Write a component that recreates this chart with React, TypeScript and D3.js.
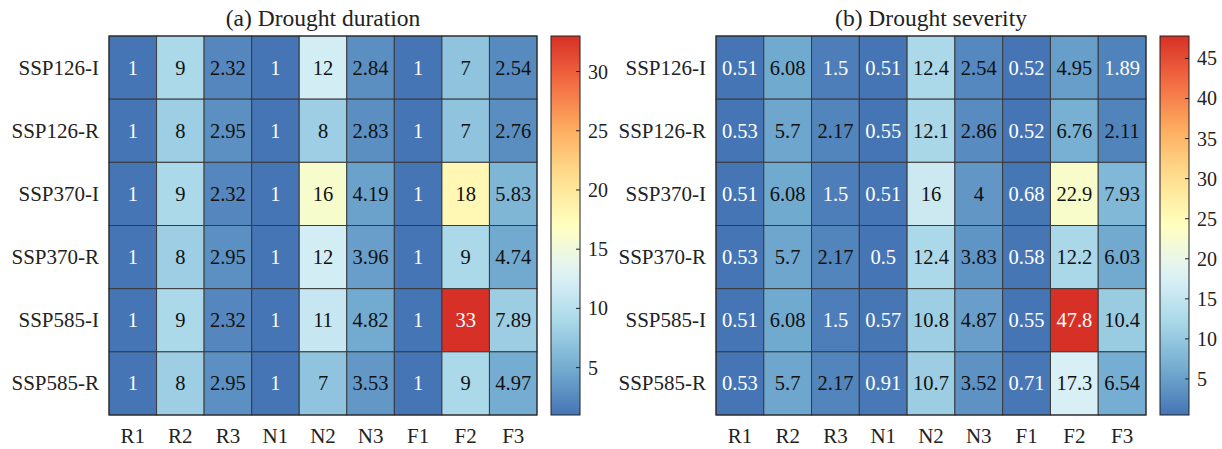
import React from 'react';
import * as d3 from 'd3';

const rows = ['SSP126-I', 'SSP126-R', 'SSP370-I', 'SSP370-R', 'SSP585-I', 'SSP585-R'];
const cols = ['R1', 'R2', 'R3', 'N1', 'N2', 'N3', 'F1', 'F2', 'F3'];

// drought duration, one array per row
const durSSP126I = [1, 9, 2.32, 1, 12, 2.84, 1, 7, 2.54];
const durSSP126R = [1, 8, 2.95, 1, 8, 2.83, 1, 7, 2.76];
const durSSP370I = [1, 9, 2.32, 1, 16, 4.19, 1, 18, 5.83];
const durSSP370R = [1, 8, 2.95, 1, 12, 3.96, 1, 9, 4.74];
const durSSP585I = [1, 9, 2.32, 1, 11, 4.82, 1, 33, 7.89];
const durSSP585R = [1, 8, 2.95, 1, 7, 3.53, 1, 9, 4.97];

// drought severity
const sevSSP126I = [0.51, 6.08, 1.5, 0.51, 12.4, 2.54, 0.52, 4.95, 1.89];
const sevSSP126R = [0.53, 5.7, 2.17, 0.55, 12.1, 2.86, 0.52, 6.76, 2.11];
const sevSSP370I = [0.51, 6.08, 1.5, 0.51, 16, 4, 0.68, 22.9, 7.93];
const sevSSP370R = [0.53, 5.7, 2.17, 0.5, 12.4, 3.83, 0.58, 12.2, 6.03];
const sevSSP585I = [0.51, 6.08, 1.5, 0.57, 10.8, 4.87, 0.55, 47.8, 10.4];
const sevSSP585R = [0.53, 5.7, 2.17, 0.91, 10.7, 3.52, 0.71, 17.3, 6.54];

const durTicks = [5, 10, 15, 20, 25, 30];
const sevTicks = [5, 10, 15, 20, 25, 30, 35, 40, 45];

const font = '"Liberation Serif", "Times New Roman", serif';
const palette = d3.schemeRdYlBu[9].slice().reverse();

type PanelProps = {
  id: string;
  title: string;
  data: number[][];
  ticks: number[];
  left: number;
  width: number;
};

const top = 36;
const bottom = 415;

const Panel = ({ id, title, data, ticks, left, width }: PanelProps) => {
  const flat = data.flat();
  const lo = d3.min(flat) as number;
  const hi = d3.max(flat) as number;

  const x = d3.scaleBand().domain(cols).range([left, left + width]);
  const y = d3.scaleBand().domain(rows).range([top, bottom]);

  // colour scale: 9-class RdYlBu reversed, stretched over the data range
  const color = d3
    .scaleLinear<string>()
    .domain(palette.map((_, i) => lo + (i / (palette.length - 1)) * (hi - lo)))
    .range(palette)
    .interpolate(d3.interpolateRgb);

  const cbLeft = left + width + 14;
  const cbWidth = 29;
  const cy = d3.scaleLinear().domain([lo, hi]).range([bottom, top]);

  const textColor = (v: number) => {
    const t = (v - lo) / (hi - lo);
    return t < 0.032 || t > 0.85 ? '#fff' : '#111';
  };

  const stops = d3.range(0, 1.0001, 0.05);

  return (
    <g>
      <defs>
        <linearGradient id={id} x1="0" y1="1" x2="0" y2="0">
          {stops.map((s) => (
            <stop key={s} offset={s} stopColor={color(lo + s * (hi - lo))} />
          ))}
        </linearGradient>
      </defs>
      <text x={left + width / 2} y={26} textAnchor="middle" fontSize={23.5} fill="#222">
        {title}
      </text>
      {data.map((row, i) =>
        row.map((v, j) => (
          <g key={`${i}-${j}`}>
            <rect
              x={x(cols[j])}
              y={y(rows[i])}
              width={x.bandwidth()}
              height={y.bandwidth()}
              fill={color(v)}
              stroke="#3a3a3a"
              strokeWidth={1}
            />
            <text
              x={(x(cols[j]) as number) + x.bandwidth() / 2}
              y={(y(rows[i]) as number) + y.bandwidth() / 2}
              textAnchor="middle"
              dominantBaseline="central"
              fontSize={20.5}
              fill={textColor(v)}
            >
              {String(v)}
            </text>
          </g>
        ))
      )}
      <rect x={left} y={top} width={width} height={bottom - top} fill="none" stroke="#262626" strokeWidth={1} />
      {rows.map((r) => (
        <text
          key={r}
          x={left - 10}
          y={(y(r) as number) + y.bandwidth() / 2}
          textAnchor="end"
          dominantBaseline="central"
          fontSize={21}
          fill="#222"
        >
          {r}
        </text>
      ))}
      {cols.map((c) => (
        <text
          key={c}
          x={(x(c) as number) + x.bandwidth() / 2}
          y={443}
          textAnchor="middle"
          fontSize={21}
          fill="#222"
        >
          {c}
        </text>
      ))}
      <rect x={cbLeft} y={top} width={cbWidth} height={bottom - top} fill={`url(#${id})`} stroke="#222" strokeWidth={1} />
      {ticks.map((t) => (
        <g key={t}>
          <line x1={cbLeft + cbWidth - 4} x2={cbLeft + cbWidth} y1={cy(t)} y2={cy(t)} stroke="#222" strokeWidth={1} />
          <text x={cbLeft + cbWidth + 8} y={cy(t)} dominantBaseline="central" fontSize={20} fill="#222">
            {t}
          </text>
        </g>
      ))}
    </g>
  );
};

const App = () => {
  const duration = [durSSP126I, durSSP126R, durSSP370I, durSSP370R, durSSP585I, durSSP585R];
  const severity = [sevSSP126I, sevSSP126R, sevSSP370I, sevSSP370R, sevSSP585I, sevSSP585R];
  return (
    <div style={{ position: 'absolute', left: 0, top: 0 }}>
      <svg width={1222} height={449} style={{ display: 'block', fontFamily: font, background: '#fff' }}>
        <Panel id="cbDur" title="(a) Drought duration" data={duration} ticks={durTicks} left={109} width={428} />
        <Panel id="cbSev" title="(b) Drought severity" data={severity} ticks={sevTicks} left={716} width={430} />
      </svg>
    </div>
  );
};

export default App;
